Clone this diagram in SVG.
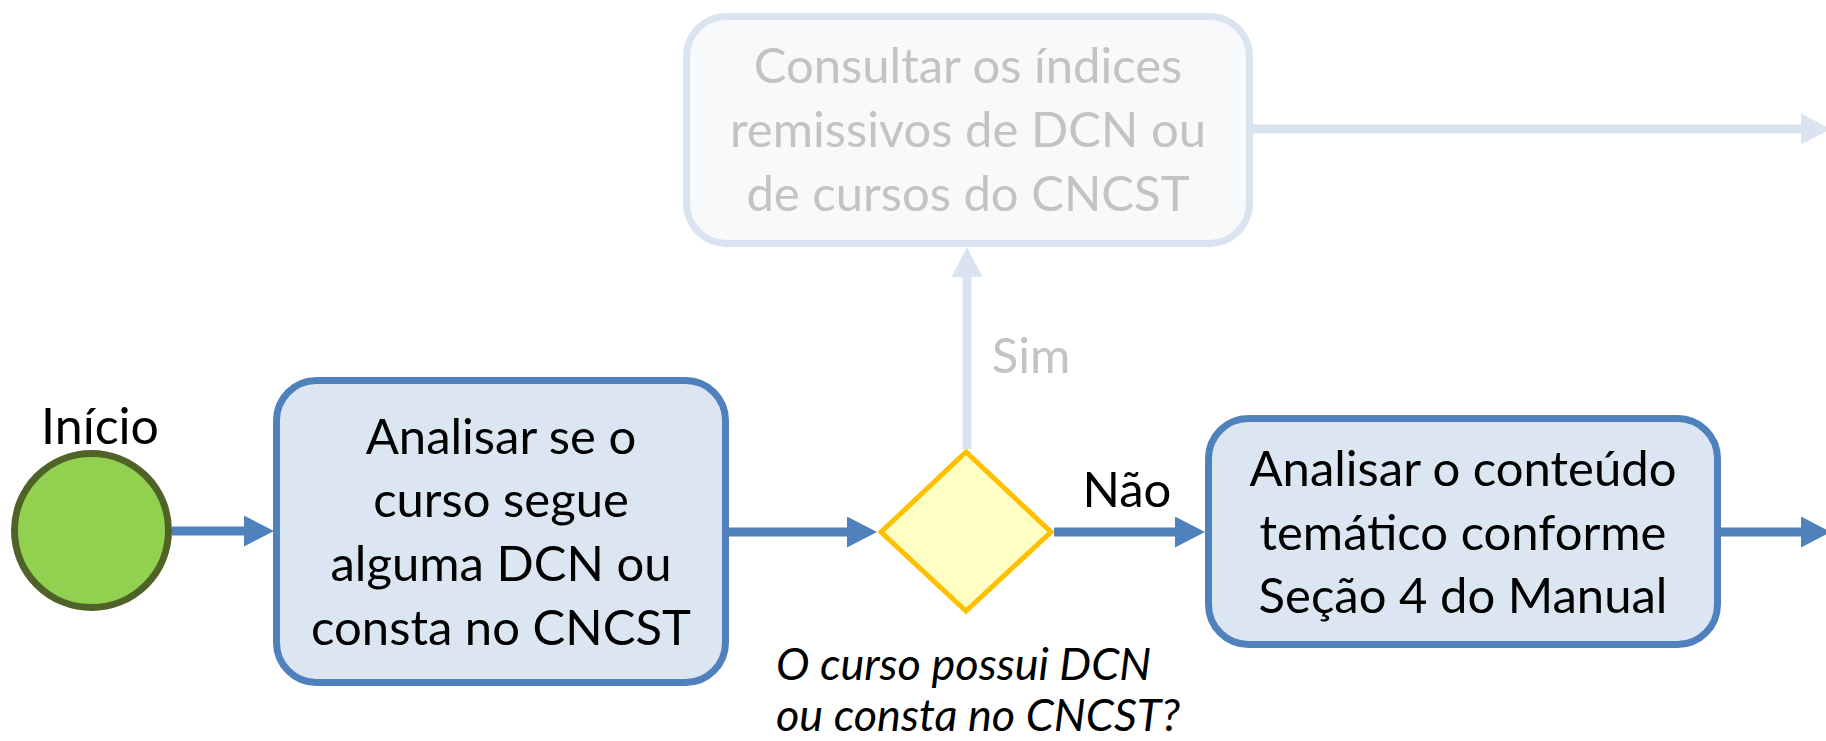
<svg xmlns="http://www.w3.org/2000/svg" width="1826" height="741" viewBox="0 0 1826 741">
<style>
.t{font-family:Lato,"Liberation Sans",sans-serif;font-size:49px;fill:#000;text-anchor:middle}
.g{fill:#C3C3C3}
.q{font-style:italic;font-size:45px;text-anchor:start}
.box{fill:#DCE6F2;stroke:#4F81BD;stroke-width:7}
.ghost{fill:#F8F9FB;stroke:#DAE4F1;stroke-width:7}
.ln{fill:none;stroke:#4F81BD;stroke-width:9}
.lg{fill:none;stroke:#DAE4F1;stroke-width:9}
</style>
<defs>
<marker id="ah" markerUnits="userSpaceOnUse" viewBox="0 0 30 31" refX="1" refY="15.5" markerWidth="30" markerHeight="31" orient="auto">
<path d="M0,0 L30,15.5 L0,31 Z" fill="#4F81BD"/>
</marker>
<marker id="ahg" markerUnits="userSpaceOnUse" viewBox="0 0 30 31" refX="1" refY="15.5" markerWidth="30" markerHeight="31" orient="auto">
<path d="M0,0 L30,15.5 L0,31 Z" fill="#DAE4F1"/>
</marker>
</defs>
<g id="connectors">
<path class="ln" d="M172,531 L245,531" marker-end="url(#ah)"/>
<path class="ln" d="M729,532 L848,532" marker-end="url(#ah)"/>
<path class="ln" d="M1054,532 L1176,532" marker-end="url(#ah)"/>
<path class="ln" d="M1721,532 L1802,532" marker-end="url(#ah)"/>
<path class="lg" d="M967,449 L967,276" marker-end="url(#ahg)"/>
<path class="lg" d="M1253,129 L1802,129" marker-end="url(#ahg)"/>
<text class="t g" x="1031" y="373">Sim</text>
<text class="t" x="1127" y="507">Não</text>
</g>
<g id="inicio">
<circle cx="91.5" cy="530.5" r="77" fill="#92D050" stroke="#4F6228" stroke-width="7"/>
<text class="t" x="100" y="444" style="font-size:50px">Início</text>
</g>
<g id="analisar-curso">
<rect class="box" x="276.5" y="380.5" width="449" height="302" rx="40"/>
<text class="t" x="501" y="454">Analisar se o</text>
<text class="t" x="501" y="517">curso segue</text>
<text class="t" x="501" y="581">alguma DCN ou</text>
<text class="t" x="501" y="645">consta no CNCST</text>
</g>
<g id="decisao">
<polygon points="881,532 966,452 1051,532 966,611" fill="#FFFFC3" stroke="#FFC000" stroke-width="5"/>
<text class="t q" x="776" y="680">O curso possui DCN</text>
<text class="t q" x="776" y="731">ou consta no CNCST?</text>
</g>
<g id="consultar-indices">
<rect class="ghost" x="686.5" y="16.5" width="563" height="227" rx="40"/>
<text class="t g" x="968" y="83">Consultar os índices</text>
<text class="t g" x="968" y="147">remissivos de DCN ou</text>
<text class="t g" x="968" y="211">de cursos do CNCST</text>
</g>
<g id="analisar-conteudo">
<rect class="box" x="1208.5" y="418.5" width="509" height="226" rx="40"/>
<text class="t" x="1463" y="486">Analisar o conteúdo</text>
<text class="t" x="1463" y="550">temático conforme</text>
<text class="t" x="1463" y="613">Seção 4 do Manual</text>
</g>
</svg>
